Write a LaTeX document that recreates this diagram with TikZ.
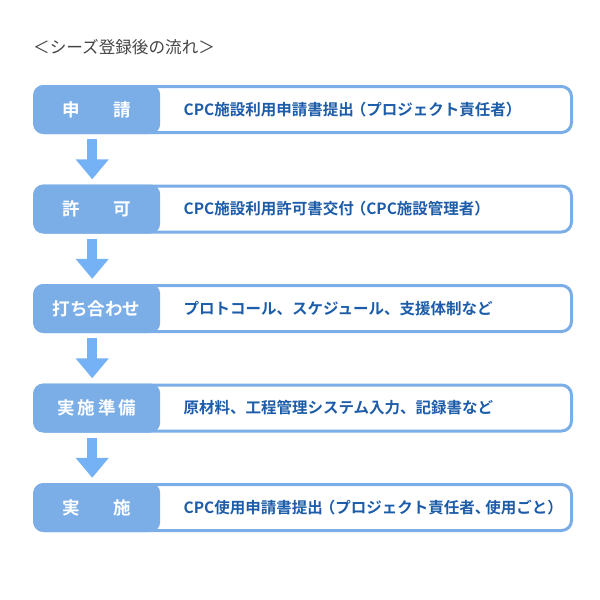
\documentclass[tikz,border=0pt]{standalone}
\usepackage{fontspec}
\setmainfont{Noto Sans CJK JP}[BoldFont={Noto Sans CJK JP Bold}]
\usepackage{tikz}
\usetikzlibrary{
  arrows.meta,
  positioning
}
\definecolor{cfBlue}{HTML}{7BAEE6}
\definecolor{cfArrow}{HTML}{74B2F5}
\definecolor{cfText}{HTML}{1C5CA8}
\definecolor{cfTitle}{HTML}{444444}
\tikzset{
  stepframe/.style={
    draw=cfBlue, line width=3pt, rounded corners=10pt,
    minimum width=537pt, minimum height=46pt, inner sep=0pt
  },
  steplabel/.style={
    fill=cfBlue, rounded corners=10pt, minimum width=127pt, minimum height=49pt,
    inner sep=0pt, anchor=west, text=white, font=\fontsize{17.5}{19}\selectfont\bfseries
  },
  steptext/.style={anchor=west, inner sep=0pt, text=cfText, font=\fontsize{15.5}{18}\selectfont\bfseries},
  flowtitle/.style={anchor=west, inner sep=0pt, text=cfTitle, font=\fontsize{16.6}{18}\selectfont},
  downarrow/.style={-{Triangle[length=20pt, width=32pt]}, line width=10pt, cfArrow}
}
\newcommand{\lpar}{\hspace{-3pt}（}
\newcommand{\rpar}{）\hspace{-3pt}}

\begin{document}
\begin{tikzpicture}[x=1pt, y=-1pt, node distance=50.5pt]
  \useasboundingbox (0,0) rectangle (600,600);
  \node[flowtitle] (ttl) at (33,47) {＜シーズ登録後の流れ＞};
  % steps
  \node[stepframe] (f1) at (303,109.5) {};
  \node[stepframe, below=of f1] (f2) {};
  \node[stepframe, below=of f2] (f3) {};
  \node[stepframe, below=of f3] (f4) {};
  \node[stepframe, below=of f4] (f5) {};
  \node[steplabel] (l1) at (f1.west) {申　\hspace{-2pt}　請};
  \node[steplabel] (l2) at (f2.west) {許　\hspace{-2pt}　可};
  \node[steplabel] (l3) at (f3.west) {打ち合わせ};
  \node[steplabel] (l4) at (f4.west) {実\hspace{3pt}施\hspace{3pt}準\hspace{3pt}備};
  \node[steplabel] (l5) at (f5.west) {実　\hspace{-2pt}　施};
  \node[steptext, right=23pt of l1] (t1) {CPC施設利用申請書提出\lpar プロジェクト責任者\rpar};
  \node[steptext, right=23pt of l2] (t2) {CPC施設利用許可書交付\lpar CPC施設管理者\rpar};
  \node[steptext, right=23pt of l3] (t3) {プロトコール、スケジュール、支援体制など};
  \node[steptext, right=23pt of l4] (t4) {原材料、工程管理システム入力、記録書など};
  \node[steptext, right=23pt of l5] (t5) {CPC使用申請書提出\lpar プロジェクト責任者、\hspace{-5pt}使用ごと\rpar};
  % arrows
  \draw[downarrow] ([xshift=-4.5pt, yshift=-5pt]l1.south) -- ([xshift=-4.5pt, yshift=5pt]l2.north);
  \draw[downarrow] ([xshift=-4.5pt, yshift=-5pt]l2.south) -- ([xshift=-4.5pt, yshift=5pt]l3.north);
  \draw[downarrow] ([xshift=-4.5pt, yshift=-5pt]l3.south) -- ([xshift=-4.5pt, yshift=5pt]l4.north);
  \draw[downarrow] ([xshift=-4.5pt, yshift=-5pt]l4.south) -- ([xshift=-4.5pt, yshift=5pt]l5.north);
\end{tikzpicture}
\end{document}
